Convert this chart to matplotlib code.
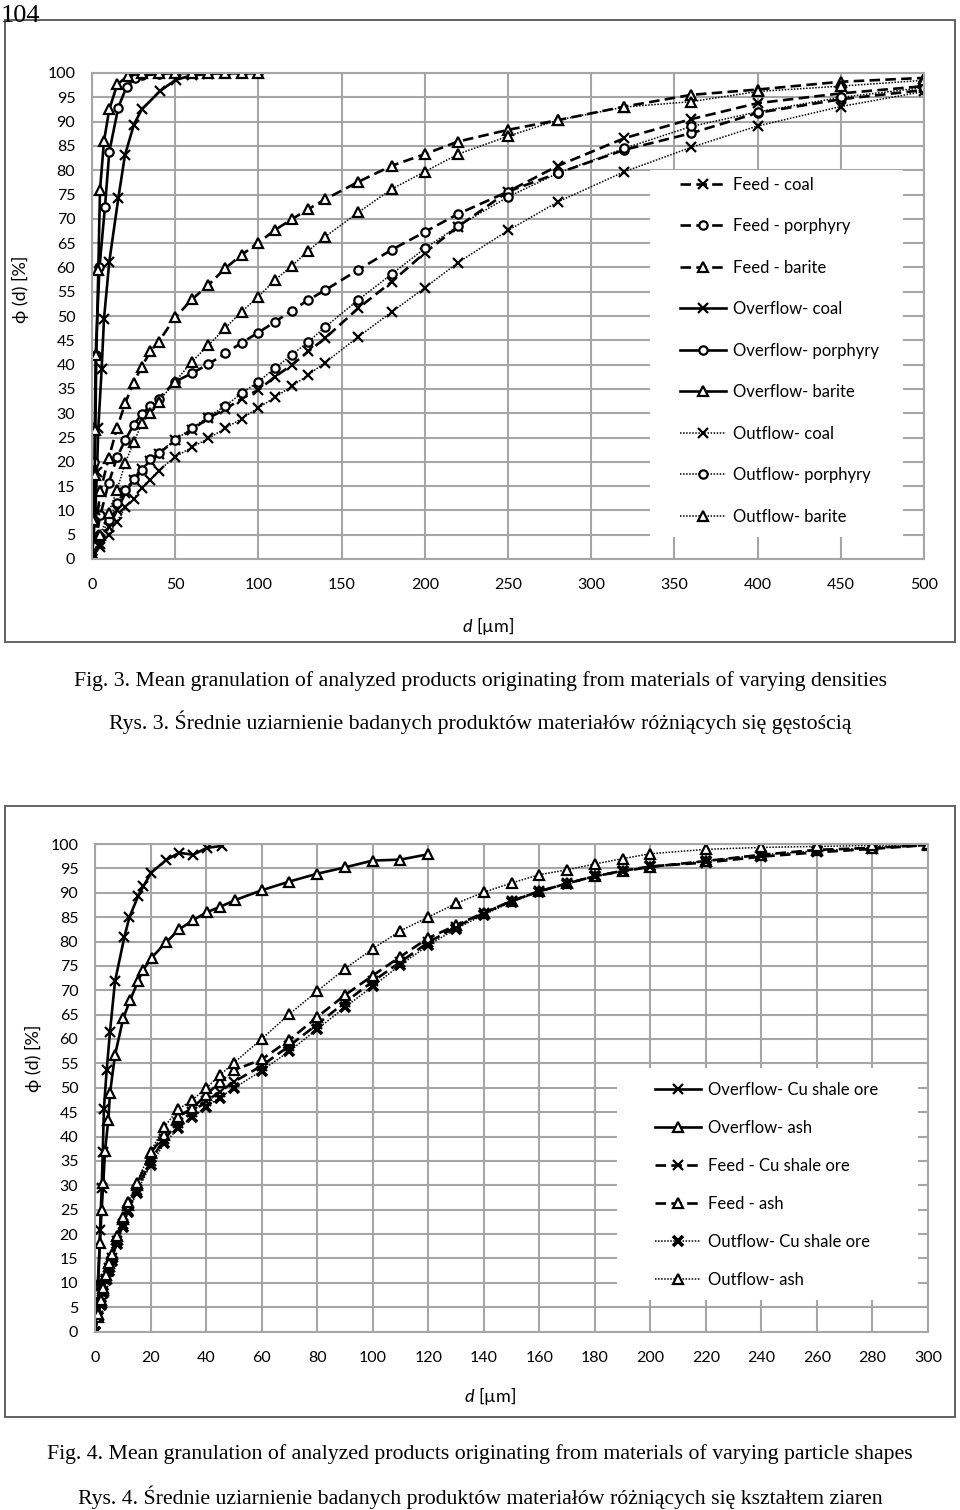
import matplotlib
matplotlib.use('Agg')
import matplotlib.pyplot as plt
from matplotlib.patches import Rectangle

plt.rcParams['font.family'] = ['Lato', 'DejaVu Sans']
plt.rcParams['mathtext.fontset'] = 'custom'
plt.rcParams['mathtext.it'] = 'Lato:italic'
plt.rcParams['mathtext.rm'] = 'Lato'

# ---------- Fig. 3: materials of varying densities ----------
d3 = [0, 5, 10, 15, 20, 25, 30, 35, 40, 50, 60, 70, 80, 90, 100, 110, 120, 130, 140,
      160, 180, 200, 220, 250, 280, 320, 360, 400, 450, 500]
feed_coal = [0, 3, 6.5, 10, 13.5, 16.3, 18.5, 20.2, 21.7, 24.4, 26.6, 29, 30.8, 33, 34.8,
             37.5, 39.9, 42.7, 45.4, 51.6, 57, 63, 68.4, 75.6, 80.9, 86.6, 90.5, 93.8, 95.8, 97.3]
feed_porphyry = [0, 9, 15.6, 20.9, 24.5, 27.6, 29.8, 31.5, 33, 36.5, 38.2, 40.1, 42.3, 44.5, 46.6,
                 48.8, 51.1, 53.3, 55.3, 59.5, 63.6, 67.3, 71, 75.6, 79.4, 84.2, 87.6, 91.8, 94.6, 96.5]
feed_barite = [0, 14, 20.7, 26.9, 32.1, 36.3, 39.6, 42.7, 44.7, 49.7, 53.4, 56.4, 59.8, 62.6, 65.1,
               67.7, 69.9, 72, 74, 77.6, 80.9, 83.3, 85.9, 88.3, 90.3, 93.1, 95.5, 96.6, 98.2, 99]
out_coal = [0, 2.5, 5, 7.7, 10.6, 12.3, 14.7, 16.3, 18.2, 21, 23, 24.8, 26.9, 28.9, 31.1,
            33.3, 35.5, 37.9, 40.4, 45.7, 50.8, 55.8, 61, 67.6, 73.5, 79.7, 84.7, 89.1, 93.1, 96.2]
out_porphyry = [0, 4.5, 8, 11.5, 14.1, 16.5, 18.3, 20.5, 21.9, 24.5, 26.9, 29.3, 31.5, 34.1, 36.5,
                39.3, 42, 44.7, 47.7, 53.3, 58.6, 63.9, 68.5, 74.5, 79.4, 84.5, 89, 92, 95, 97]
out_barite = [0, 5, 9.5, 14.2, 19.8, 24, 27.9, 30, 32.4, 36.5, 40.6, 44, 47.5, 50.9, 54,
              57.4, 60.3, 63.4, 66.3, 71.3, 76.1, 79.7, 83.3, 87, 90.3, 93, 94.1, 96.2, 97.3, 98.5]

d_over_coal = [0, 1, 2, 3, 3.8, 5.8, 7.2, 10.4, 15.8, 19.8, 25.2, 29.9, 40.9, 50.3, 60, 70, 80, 90, 100]
over_coal = [0, 5, 10, 18, 27, 39.1, 49.4, 61.2, 74.2, 83.1, 89.4, 92.5, 96.3, 98.6, 99.5, 99.8, 100, 100, 100]
d_over_porphyry = [0, 0.8, 1.5, 2.2, 4.5, 7.8, 10.4, 15.8, 20.8, 25.8, 30, 40, 50, 60, 70, 80, 90, 100]
over_porphyry = [0, 8, 20, 42, 60, 72.5, 83.8, 92.9, 97.2, 98.9, 99.5, 99.8, 100, 100, 100, 100, 100, 100]
d_over_barite = [0, 0.8, 1.6, 2, 2.6, 3.8, 4.8, 7.2, 10.4, 15.2, 21.8, 30, 40, 50, 60, 70, 80, 90, 100]
over_barite = [0, 8, 17.3, 26.5, 42, 59.5, 75.9, 86, 92.5, 97.7, 99.4, 100, 100, 100, 100, 100, 100, 100, 100]

# ---------- Fig. 4: materials of varying particle shapes ----------
d4 = [0, 1, 2, 3, 4, 5, 6, 8, 10, 12, 15, 20, 25, 30, 35, 40, 45, 50, 60, 70, 80, 90, 100,
      110, 120, 130, 140, 150, 160, 170, 180, 190, 200, 220, 240, 260, 280, 300]
feed_cu = [0, 3.2, 5.8, 8.3, 10.8, 13, 15, 18.5, 22, 25, 29, 35, 39.5, 42.8, 45, 47.2, 49.2, 51.2,
           54.5, 58.6, 63, 67.5, 71.8, 75.8, 79.8, 83, 85.8, 88.3, 90.3, 91.9, 93.4, 94.5, 95.4,
           96.2, 97.4, 98.3, 99, 99.8]
feed_ash = [0, 3, 6, 8.5, 11, 13.5, 15.5, 19, 23, 26, 30, 36.6, 40.3, 44.1, 45.8, 48.5, 51.2, 53.6,
            55.8, 59.8, 64.5, 69, 73, 76.9, 80.7, 83.3, 85.9, 88.3, 90.3, 91.9, 93.4, 94.4, 95.3,
            96.5, 97.8, 98.8, 99.2, 99.8]
out_cu = [0, 3, 5.5, 8, 10.5, 12.5, 14.5, 18, 21.5, 24.5, 28.5, 34.2, 38.6, 41.7, 43.9, 46.1, 48, 49.9,
          53.5, 57.5, 62, 66.5, 70.8, 75.2, 79.2, 82.6, 85.5, 88.1, 90.2, 91.8, 93.4, 94.4, 95.4,
          96.5, 97.8, 98.6, 99.3, 99.8]
out_ash = [0, 3.5, 6.5, 9, 11.5, 14, 16, 19.5, 23.5, 26.5, 30.5, 36.9, 42, 45.6, 47.5, 49.9, 52.6, 55.1,
           60, 65.1, 69.8, 74.4, 78.5, 82.2, 85, 87.8, 90.1, 92, 93.7, 94.7, 95.9, 97, 98,
           98.9, 99.3, 99.5, 99.7, 100]

d_over_cu = [0, 0.5, 1.2, 1.8, 2.4, 2.8, 3.2, 4.2, 5.4, 7.2, 10.6, 12.4, 15.6, 17.4, 20.2, 25.6,
             30.3, 35.4, 40.2, 45.6]
over_cu = [0, 5, 10, 20.8, 29.4, 36.9, 45.6, 53.6, 61.5, 71.8, 81, 85, 89.4, 91.3, 94.1, 96.7,
           98.2, 97.8, 99.2, 99.6]
d_over_ash = [0, 0.8, 1.8, 2.4, 3, 3.6, 4.8, 5.4, 7.2, 10.2, 12.6, 15.6, 17.4, 20.4, 25.6, 30.3,
              35.4, 40.2, 45, 50.5, 60, 70, 80, 90, 100, 110, 120]
over_ash = [0, 8, 18.2, 25, 30.5, 37, 43.4, 48.9, 56.7, 64.3, 67.9, 72, 74.2, 76.7, 79.8, 82.5,
            84.4, 86, 87.1, 88.5, 90.5, 92.3, 93.9, 95.2, 96.6, 96.8, 97.9]

GRID = '#a6a6a6'
H, W = 1510, 960

# line styles: feed = dashed, overflow = solid, outflow = dotted
style = {
    'feed': dict(color='black', lw=1.9, ls=(0, (4, 2))),
    'over': dict(color='black', lw=1.9, ls='-'),
    'out': dict(color='black', lw=1.1, ls=(0, (1, 1))),
}
mark = {
    'x': dict(marker='x', ms=7, mew=1.6),
    'X': dict(marker='x', ms=7, mew=2.6),
    'o': dict(marker='o', ms=6, mew=1.6, mfc='white', mec='black'),
    '^': dict(marker='^', ms=7, mew=1.6, mfc='white', mec='black'),
}


def px_axes(left, top, right, bottom):
    return [left / W, 1 - bottom / H, (right - left) / W, (bottom - top) / H]


def setup(ax, xmax, xstep):
    ax.set_xlim(0, xmax)
    ax.set_ylim(0, 100)
    ax.set_xticks(range(0, xmax + 1, xstep))
    ax.set_yticks(range(0, 101, 5))
    ax.grid(True, color=GRID, lw=1.5, zorder=0)
    ax.set_axisbelow(True)
    for s in ax.spines.values():
        s.set_color(GRID)
        s.set_linewidth(1.5)
    ax.tick_params(length=0, labelsize=11.5, pad=12)
    ax.tick_params(axis='x', pad=14)


fig = plt.figure(figsize=(9.6, 15.1), dpi=100)

# outer frames
for top, bot in [(20, 642), (806, 1417)]:
    fig.patches.append(Rectangle((5 / W, 1 - bot / H), 950 / W, (bot - top) / H,
                                 transform=fig.transFigure, fill=False,
                                 edgecolor='#555555', lw=1.3))

fig.text(1 / W, 1 - 16 / H, '104', fontsize=19, family='Liberation Serif', va='center')

# ---- top chart ----
ax1 = fig.add_axes(px_axes(92, 73, 924, 559))
setup(ax1, 500, 50)
ax1.plot(d3, feed_coal, label='Feed - coal', **style['feed'], **mark['x'])
ax1.plot(d3, feed_porphyry, label='Feed - porphyry', **style['feed'], **mark['o'])
ax1.plot(d3, feed_barite, label='Feed - barite', **style['feed'], **mark['^'])
ax1.plot(d_over_coal, over_coal, label='Overflow- coal', **style['over'], **mark['x'])
ax1.plot(d_over_porphyry, over_porphyry, label='Overflow- porphyry', **style['over'], **mark['o'])
ax1.plot(d_over_barite, over_barite, label='Overflow- barite', **style['over'], **mark['^'])
ax1.plot(d3, out_coal, label='Outflow- coal', **style['out'], **mark['x'])
ax1.plot(d3, out_porphyry, label='Outflow- porphyry', **style['out'], **mark['o'])
ax1.plot(d3, out_barite, label='Outflow- barite', **style['out'], **mark['^'])
ax1.add_patch(Rectangle((0.671, 0.045), 0.304, 0.755, transform=ax1.transAxes,
                        facecolor='white', edgecolor='none', zorder=1))
ax1.legend(loc='center', bbox_to_anchor=(0.826, 0.429), frameon=False, fontsize=12,
           handlelength=2.8, labelspacing=1.53, handletextpad=0.4)

fig.text(20 / W, 1 - 289 / H, 'ϕ (d) [%]', rotation=90, fontsize=13, ha='center', va='center')
fig.text(488 / W, 1 - 626 / H, r'$d$ [µm]', fontsize=13, ha='center', va='center')

# ---- bottom chart ----
ax2 = fig.add_axes(px_axes(95, 844, 928, 1331.5))
setup(ax2, 300, 20)
ax2.plot(d_over_cu, over_cu, label='Overflow- Cu shale ore', **style['over'], **mark['x'])
ax2.plot(d_over_ash, over_ash, label='Overflow- ash', **style['over'], **mark['^'])
ax2.plot(d4, feed_cu, label='Feed - Cu shale ore', **style['feed'], **mark['x'])
ax2.plot(d4, feed_ash, label='Feed - ash', **style['feed'], **mark['^'])
ax2.plot(d4, out_cu, label='Outflow- Cu shale ore', **style['out'], **mark['X'])
ax2.plot(d4, out_ash, label='Outflow- ash', **style['out'], **mark['^'])
ax2.add_patch(Rectangle((0.627, 0.065), 0.361, 0.475, transform=ax2.transAxes,
                        facecolor='white', edgecolor='none', zorder=1))
ax2.legend(loc='center', bbox_to_anchor=(0.806, 0.30), frameon=False, fontsize=12,
           handlelength=2.8, labelspacing=1.32, handletextpad=0.4)

fig.text(33 / W, 1 - 1058 / H, 'ϕ (d) [%]', rotation=90, fontsize=13, ha='center', va='center')
fig.text(490 / W, 1 - 1396 / H, r'$d$ [µm]', fontsize=13, ha='center', va='center')

# captions
serif = 'Liberation Serif'
fig.text(0.5, 1 - 681 / H, 'Fig. 3. Mean granulation of analyzed products originating from '
         'materials of varying densities', fontsize=15.7, family=serif, ha='center', va='center')
fig.text(0.5, 1 - 722 / H, 'Rys. 3. Średnie uziarnienie badanych produktów materiałów '
         'różniących się gęstością', fontsize=15.7, family=serif, ha='center', va='center')
fig.text(0.5, 1 - 1454 / H, 'Fig. 4. Mean granulation of analyzed products originating from '
         'materials of varying particle shapes', fontsize=15.7, family=serif, ha='center', va='center')
fig.text(0.5, 1 - 1497 / H, 'Rys. 4. Średnie uziarnienie badanych produktów materiałów '
         'różniących się kształtem ziaren', fontsize=15.7, family=serif, ha='center', va='center')

fig.savefig('out.png', dpi=100)
